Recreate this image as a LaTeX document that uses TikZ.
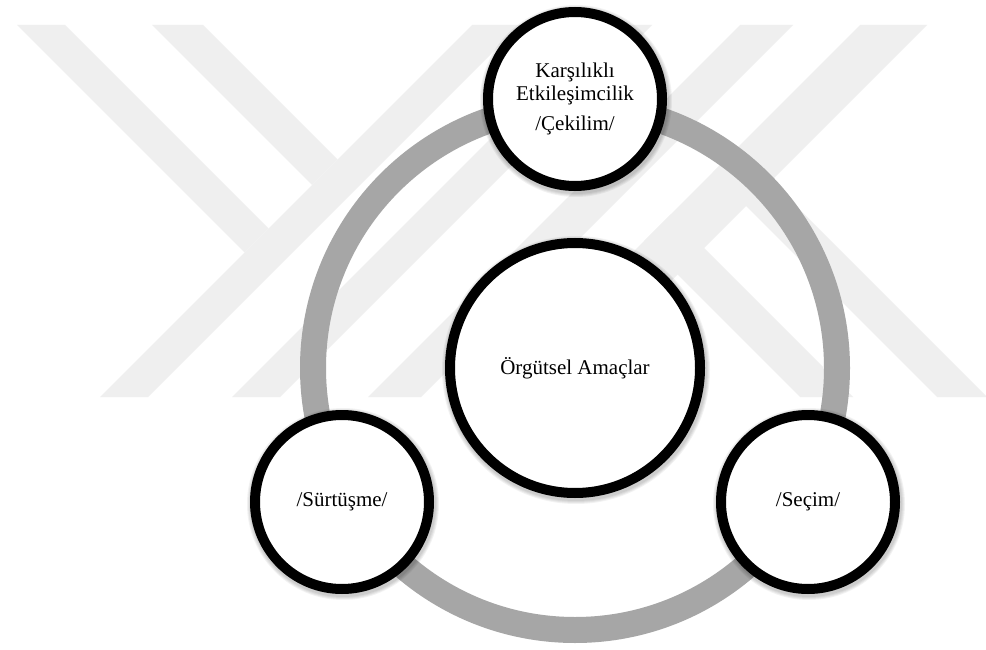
\documentclass[tikz,border=0pt]{standalone}
\usepackage{fontspec}
\setmainfont{Liberation Serif}
\definecolor{ringgrey}{RGB}{166,166,166}
\definecolor{wm}{RGB}{239,239,239}
\begin{document}
\begin{tikzpicture}[x=1pt,y=-1pt,
  bub/.style={circle,draw=black,line width=10pt,fill=white,minimum size=174pt,inner sep=0pt,align=center,font=\fontsize{21}{23}\selectfont},
  hub/.style={bub,minimum size=250pt},
  wmark/.style={fill=wm,draw=none},
  shade/.style={fill=black,opacity=0.05}]
\useasboundingbox[fill=white] (0,0) rectangle (986,650);
% watermark
\fill[wmark] (17,25) -- (65,25) -- (268.5,228.5) -- (244.5,252.5) -- cycle;
\fill[wmark] (152,25) -- (203,25) -- (337.5,159.5) -- (312,185) -- cycle;
\fill[wmark] (472,25) -- (520,25) -- (148,397) -- (100,397) -- cycle;
\fill[wmark] (604,25) -- (652,25) -- (280,397) -- (232,397) -- cycle;
\fill[wmark] (740,25) -- (793,25) -- (421,397) -- (368,397) -- cycle;
\fill[wmark] (860,25) -- (927,25) -- (555,397) -- (488,397) -- cycle;
\fill[wmark] (644,241) -- (670.5,214.5) -- (853,397) -- (800,397) -- cycle;
\fill[wmark] (712.5,172.5) -- (737.5,147.5) -- (987,397) -- (937,397) -- cycle;
% positions
\coordinate (c) at (575,368);
\coordinate (pa) at (575,99);
\coordinate (pf) at (342,502);
\coordinate (ps) at (808,502);
% ring
\draw[ringgrey,line width=26pt] (c) circle[radius=262pt];
% soft shadows
\foreach \p/\r in {pa/92,pf/92,ps/92,c/130}{
  \foreach \k in {1,...,4}{
    \fill[shade] ([shift={(1pt,-2pt)}]\p) circle[radius=\r pt+\k pt];
  }
}
\node[hub] (goal) at (c) {Örgütsel Amaçlar};
\node[bub] (attr) at (pa) {Karşılıklı\\Etkileşimcilik\\[7pt]/Çekilim/};
\node[bub] (fric) at (pf) {/Sürtüşme/};
\node[bub] (sel) at (ps) {/Seçim/};
\end{tikzpicture}
\end{document}
